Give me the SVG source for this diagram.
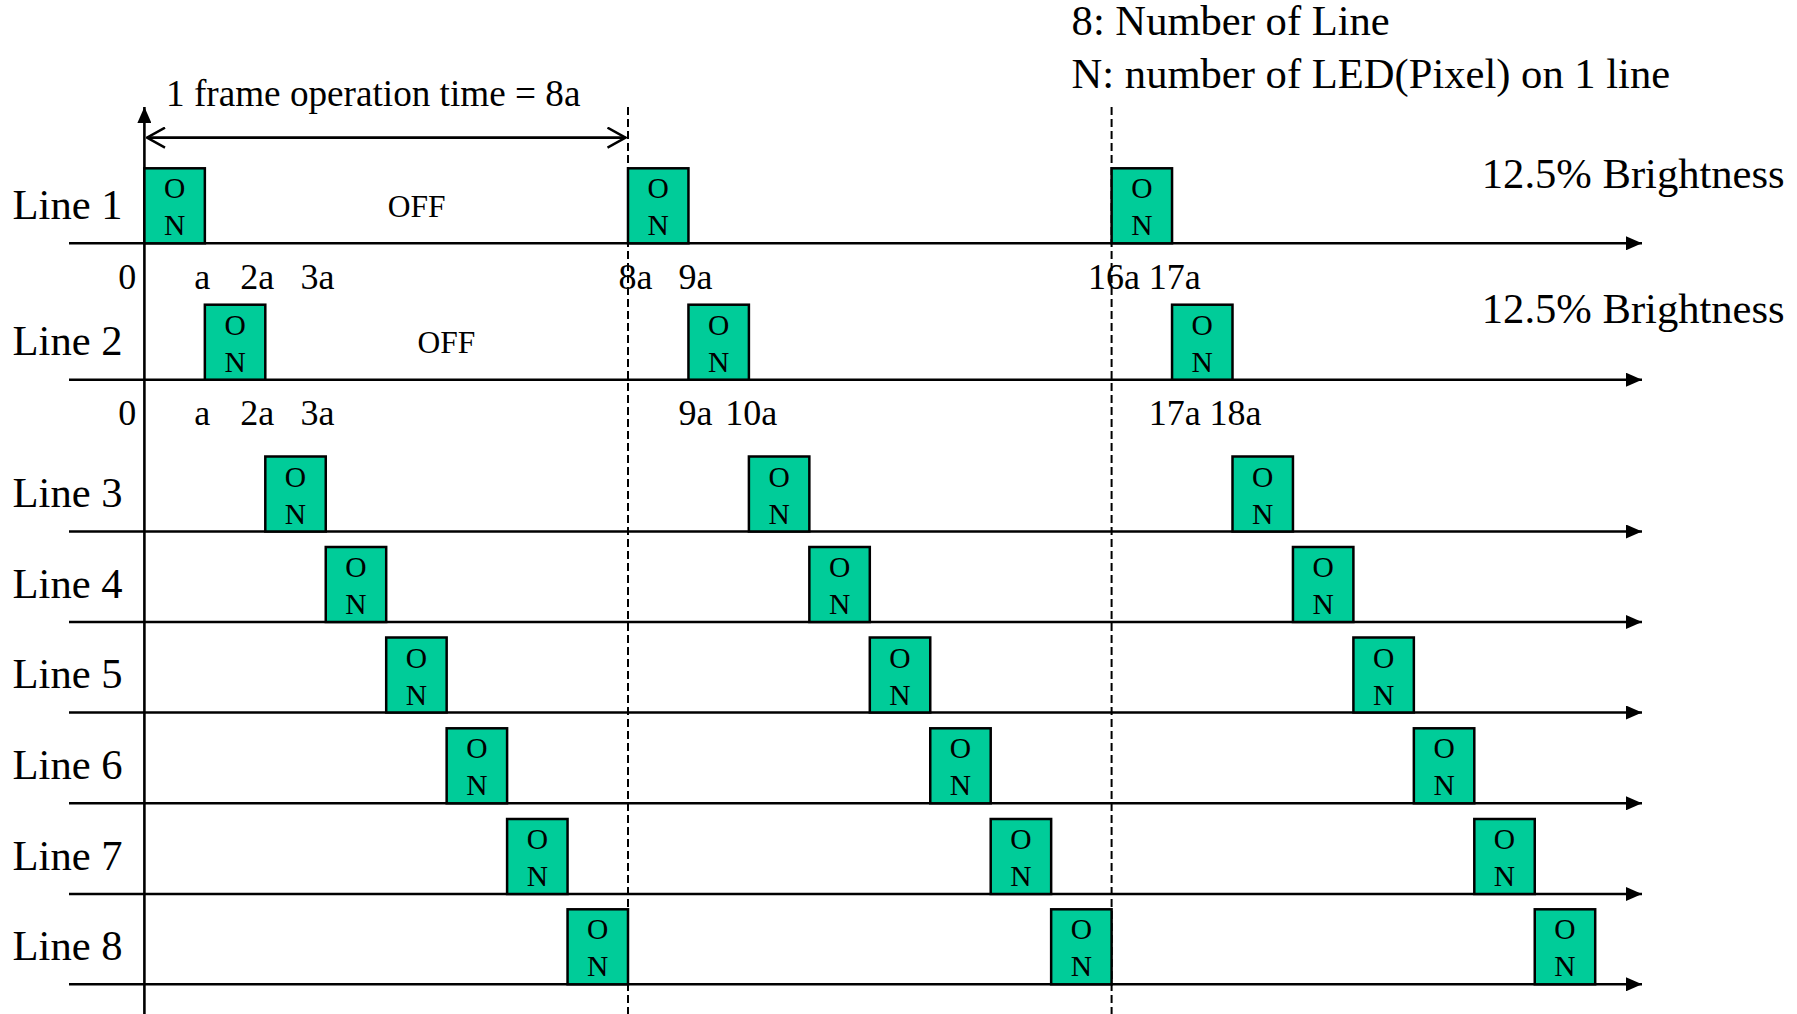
<svg xmlns="http://www.w3.org/2000/svg" width="1797" height="1014" viewBox="0 0 1797 1014">
  <defs>
    <style>
      text { font-family: "Liberation Serif", "Times New Roman", serif; fill: #000; }
      .lbl { font-size: 42.6px; }
      .tick { font-size: 36px; text-anchor: middle; }
      .note { font-size: 37.2px; }
      .off { font-size: 31.5px; text-anchor: middle; }
      .on rect { fill: #00CC99; stroke: #000; stroke-width: 2.5; }
      .on text { font-size: 29.5px; text-anchor: middle; }
      .axis { stroke: #000; stroke-width: 2.6; fill: none; }
      .dash { stroke: #000; stroke-width: 2; stroke-dasharray: 8 4; fill: none; }
    </style>
    <marker id="solidHead" viewBox="0 0 16 14" refX="16" refY="7" markerWidth="16" markerHeight="14" markerUnits="userSpaceOnUse" orient="auto">
      <path d="M0,0 L16,7 L0,14 Z" fill="#000"/>
    </marker>
    <marker id="openHead" viewBox="0 0 20 22" refX="19" refY="11" markerWidth="20" markerHeight="22" markerUnits="userSpaceOnUse" orient="auto-start-reverse">
      <path d="M1,1 L19,11 L1,21" fill="none" stroke="#000" stroke-width="2.4"/>
    </marker>
    <!-- one ON pulse: 60.45 wide (one time unit a), 75 tall -->
    <g id="pulse" class="on">
      <rect x="0" y="0" width="60.45" height="75"/>
      <text x="30.2" y="30">O</text>
      <text x="30.2" y="67">N</text>
    </g>
  </defs>

  <rect width="1797" height="1014" fill="#fff"/>

  <!-- legend -->
  <g id="legend">
    <text class="lbl" x="1071.6" y="35">8: Number of Line</text>
    <text class="lbl" x="1071.6" y="88">N: number of LED(Pixel) on 1 line</text>
    <text class="lbl" x="1481.8" y="188">12.5% Brightness</text>
    <text class="lbl" x="1481.8" y="323">12.5% Brightness</text>
  </g>

  <!-- axes, frame period marker and frame boundaries -->
  <g id="connectors">
    <line class="axis" x1="144.4" y1="1014" x2="144.4" y2="107" marker-end="url(#solidHead)"/>
    <line class="axis" x1="147" y1="137.6" x2="625.5" y2="137.6" marker-start="url(#openHead)" marker-end="url(#openHead)"/>
    <line class="dash" x1="628" y1="107" x2="628" y2="1014"/>
    <line class="dash" x1="1111.6" y1="107" x2="1111.6" y2="1014"/>
    <line class="axis" x1="69" y1="243.3" x2="1642" y2="243.3" marker-end="url(#solidHead)"/>
    <line class="axis" x1="69" y1="379.7" x2="1642" y2="379.7" marker-end="url(#solidHead)"/>
    <line class="axis" x1="69" y1="531.5" x2="1642" y2="531.5" marker-end="url(#solidHead)"/>
    <line class="axis" x1="69" y1="622" x2="1642" y2="622" marker-end="url(#solidHead)"/>
    <line class="axis" x1="69" y1="712.5" x2="1642" y2="712.5" marker-end="url(#solidHead)"/>
    <line class="axis" x1="69" y1="803.3" x2="1642" y2="803.3" marker-end="url(#solidHead)"/>
    <line class="axis" x1="69" y1="894" x2="1642" y2="894" marker-end="url(#solidHead)"/>
    <line class="axis" x1="69" y1="984.3" x2="1642" y2="984.3" marker-end="url(#solidHead)"/>
  </g>

  <g id="frame-label">
    <text class="note" x="166" y="106">1 frame operation time = 8a</text>
  </g>

  <!-- time ticks -->
  <g id="ticks-line1">
    <text class="tick" x="127.2" y="289">0</text>
    <text class="tick" x="202.3" y="289">a</text>
    <text class="tick" x="257.3" y="289">2a</text>
    <text class="tick" x="317.5" y="289">3a</text>
    <text class="tick" x="635.5" y="289">8a</text>
    <text class="tick" x="695.6" y="289">9a</text>
    <text class="tick" x="1114" y="289">16a</text>
    <text class="tick" x="1174.7" y="289">17a</text>
  </g>
  <g id="ticks-line2">
    <text class="tick" x="127.2" y="425">0</text>
    <text class="tick" x="202.3" y="425">a</text>
    <text class="tick" x="257.3" y="425">2a</text>
    <text class="tick" x="317.5" y="425">3a</text>
    <text class="tick" x="695.6" y="425">9a</text>
    <text class="tick" x="751.2" y="425">10a</text>
    <text class="tick" x="1174.7" y="425">17a</text>
    <text class="tick" x="1235.4" y="425">18a</text>
  </g>

  <!-- scan lines: pulse k starts at (k-1)a, (k+7)a, (k+15)a -->
  <g id="line1">
    <text class="lbl" x="12.6" y="218.8">Line 1</text>
    <text class="off" x="416.6" y="216.7">OFF</text>
    <use href="#pulse" x="144.4" y="168.3"/>
    <use href="#pulse" x="628" y="168.3"/>
    <use href="#pulse" x="1111.6" y="168.3"/>
  </g>
  <g id="line2">
    <text class="lbl" x="12.6" y="355.2">Line 2</text>
    <text class="off" x="446.4" y="353.3">OFF</text>
    <use href="#pulse" x="204.85" y="304.7"/>
    <use href="#pulse" x="688.45" y="304.7"/>
    <use href="#pulse" x="1172.05" y="304.7"/>
  </g>
  <g id="line3">
    <text class="lbl" x="12.6" y="507">Line 3</text>
    <use href="#pulse" x="265.3" y="456.5"/>
    <use href="#pulse" x="748.9" y="456.5"/>
    <use href="#pulse" x="1232.5" y="456.5"/>
  </g>
  <g id="line4">
    <text class="lbl" x="12.6" y="597.5">Line 4</text>
    <use href="#pulse" x="325.75" y="547"/>
    <use href="#pulse" x="809.35" y="547"/>
    <use href="#pulse" x="1292.95" y="547"/>
  </g>
  <g id="line5">
    <text class="lbl" x="12.6" y="688">Line 5</text>
    <use href="#pulse" x="386.2" y="637.5"/>
    <use href="#pulse" x="869.8" y="637.5"/>
    <use href="#pulse" x="1353.4" y="637.5"/>
  </g>
  <g id="line6">
    <text class="lbl" x="12.6" y="778.8">Line 6</text>
    <use href="#pulse" x="446.65" y="728.3"/>
    <use href="#pulse" x="930.25" y="728.3"/>
    <use href="#pulse" x="1413.85" y="728.3"/>
  </g>
  <g id="line7">
    <text class="lbl" x="12.6" y="869.5">Line 7</text>
    <use href="#pulse" x="507.1" y="819"/>
    <use href="#pulse" x="990.7" y="819"/>
    <use href="#pulse" x="1474.3" y="819"/>
  </g>
  <g id="line8">
    <text class="lbl" x="12.6" y="959.8">Line 8</text>
    <use href="#pulse" x="567.55" y="909.3"/>
    <use href="#pulse" x="1051.15" y="909.3"/>
    <use href="#pulse" x="1534.75" y="909.3"/>
  </g>
</svg>
